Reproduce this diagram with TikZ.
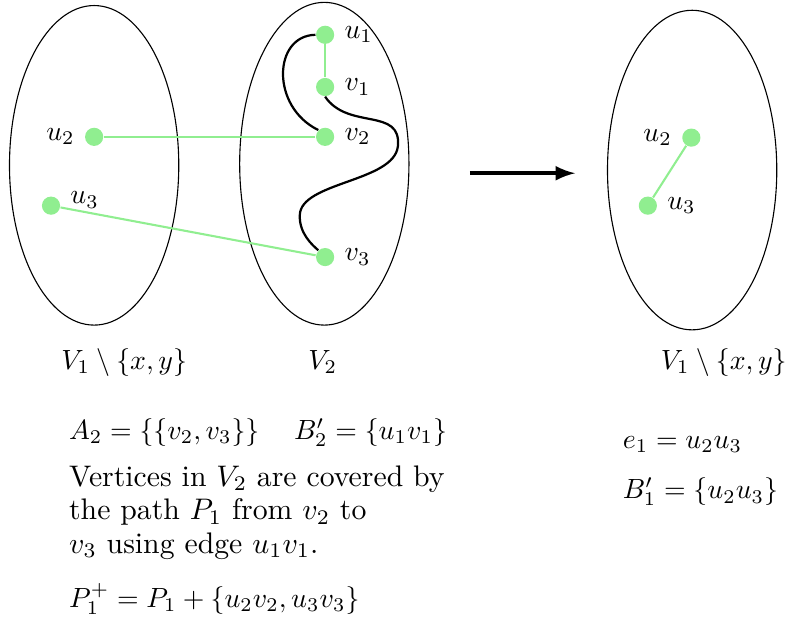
\RequirePackage{fix-cm}
\documentclass[tikz,border=0pt]{standalone}
\usepackage{amsmath}
\usetikzlibrary{arrows}
\definecolor{lightgreen}{RGB}{144,238,144}

\begin{document}
\begin{tikzpicture}[
    vert/.style={circle, fill=lightgreen, inner sep=0pt, minimum size=0.23cm},
    greenedge/.style={lightgreen, line width=0.75pt},
    pathcurve/.style={black, thick}
  ]
    \useasboundingbox (0,0) rectangle (10,7.85);

    % The three vertex sets
    \draw (1.19,5.76) ellipse (1.07 and 2.02);
    \draw (4.10,5.78) ellipse (1.07 and 2.04);
    \draw (8.75,5.70) ellipse (1.07 and 2.02);

    % Vertices before the step
    \node[vert, label={right:$u_1$}] (u1) at (4.11,7.41) {};
    \node[vert, label={right:$v_1$}] (v1) at (4.11,6.75) {};
    \node[vert, label={right:$v_2$}] (v2) at (4.11,6.12) {};
    \node[vert, label={right:$v_3$}] (v3) at (4.11,4.60) {};
    \node[vert, label={left:$u_2$}]  (u2) at (1.19,6.12) {};
    \node[vert, label={[yshift=2pt]right:$u_3$}] (u3) at (0.645,5.25) {};

    % Edges u1v1, u2v2, u3v3
    \draw[greenedge] (u1) -- (v1);
    \draw[greenedge] (u2) -- (v2);
    \draw[greenedge] (u3) -- (v3);

    % Path P1 through V2
    \draw[pathcurve] (u1.west) .. controls (3.45,7.40) and (3.42,6.50) .. (v2.north west);
    \draw[pathcurve] (v1.south) .. controls (4.40,6.20) and (5.08,6.50) .. (5.03,6.00)
        .. controls (4.98,5.55) and (3.80,5.55) .. (3.79,5.13)
        .. controls (3.78,4.90) and (3.95,4.75) .. (v3.north west);

    % Step arrow
    \coordinate (arrs) at (5.94,5.66);
    \coordinate (arre) at (7.27,5.66);
    \draw[-latex, line width=1.4pt] (arrs) -- (arre);

    % Vertices after the step
    \node[vert, label={left:$u_2$}]  (ru2) at (8.74,6.11) {};
    \node[vert, label={right:$u_3$}] (ru3) at (8.19,5.25) {};
    \draw[greenedge] (ru2) -- (ru3);

    % Set names
    \node (setl) at (1.57,3.27) {$V_1 \setminus \{x,y\}$};
    \node (setm) at (4.08,3.27) {$V_2$};
    \node (setr) at (9.15,3.27) {$V_1 \setminus \{x,y\}$};

    % Notes under the sets
    \node[anchor=west] (sets) at (0.75,2.38)
        {$A_2=\{\{v_2,v_3\}\}$\hspace{1.25em}$B'_2=\{u_1v_1\}$};
    \node[anchor=west, align=left, font=\fontsize{10.7}{12}\selectfont] (cover) at (0.75,1.37)
        {Vertices in $V_2$ are covered by\\
         the path $P_1$ from $v_2$ to\\
         $v_3$ using edge $u_1v_1$.};
    \node[anchor=west] (plus) at (0.75,0.28)
        {$P_1^+=P_1+\{u_2v_2,u_3v_3\}$};
    \node[anchor=west] (eone) at (7.75,2.23) {$e_1=u_2u_3$};
    \node[anchor=west] (bone) at (7.75,1.63) {$B'_1=\{u_2u_3\}$};
\end{tikzpicture}
\end{document}
